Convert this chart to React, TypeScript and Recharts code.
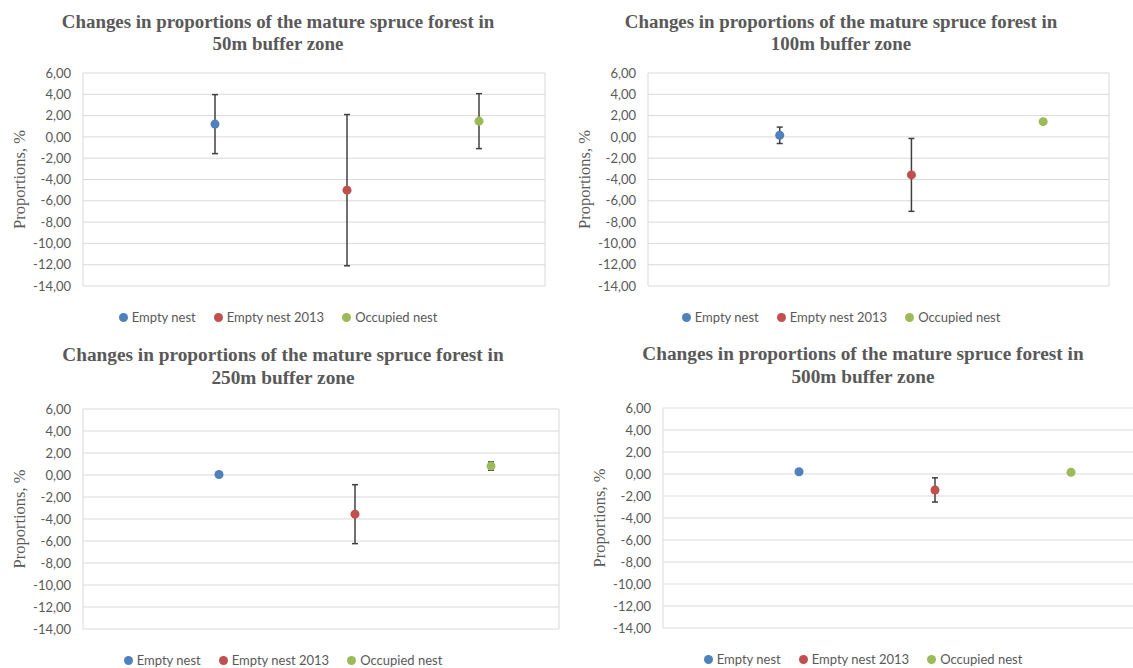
import { CartesianGrid, ErrorBar, Legend, Scatter, ScatterChart, XAxis, YAxis, ZAxis } from 'recharts';

// Shared series / axis definitions
const seriesNames = ['Empty nest', 'Empty nest 2013', 'Occupied nest'];
const seriesColors = ['#4F81BD', '#C0504D', '#9BBB59'];
const seriesX = [2, 4, 6];
const xTicks = [0, 1, 2, 3, 4, 5, 6, 7];
const yTicks = [6, 4, 2, 0, -2, -4, -6, -8, -10, -12, -14];

const titleLine = 'Changes in proportions of the mature spruce forest in';
const zones = ['50m', '100m', '250m', '500m'];

// Mean change and error (±) per series, one pair of arrays per buffer zone
const means50 = [1.2, -5.0, 1.48];
const errors50 = [2.77, 7.1, 2.58];

const means100 = [0.15, -3.57, 1.43];
const errors100 = [0.77, 3.42, 0];

const means250 = [0.05, -3.56, 0.81];
const errors250 = [0, 2.68, 0.38];

const means500 = [0.2, -1.45, 0.15];
const errors500 = [0, 1.1, 0];

const GRAY = '#595959';
const SANS = 'Lato, "Open Sans", sans-serif';
const SERIF = '"Liberation Serif", "Times New Roman", serif';

type Layout = {
  left: number;
  top: number;
  width: number;
  height: number;
  marginTop: number;
  marginBottom: number;
  center: number;
  titleTop: number;
  titleSize: number;
  titleLine: number;
};

const layouts: Layout[] = [
  { left: 0, top: 0, width: 555, height: 335, marginTop: 73, marginBottom: 8, center: 278, titleTop: 11, titleSize: 18.9, titleLine: 21.6 },
  { left: 565, top: 0, width: 554, height: 335, marginTop: 73, marginBottom: 8, center: 276, titleTop: 11, titleSize: 18.9, titleLine: 21.6 },
  { left: 0, top: 335, width: 569, height: 340, marginTop: 74, marginBottom: 5, center: 283, titleTop: 9, titleSize: 19.3, titleLine: 22.5 },
  { left: 580, top: 335, width: 569, height: 340, marginTop: 73, marginBottom: 6, center: 283, titleTop: 8, titleSize: 19.3, titleLine: 22.5 },
];

const fmt = (v: number) => v.toFixed(2).replace('.', ',');

function LegendContent({ payload }: any) {
  return (
    <div
      style={{
        display: 'flex',
        justifyContent: 'center',
        alignItems: 'center',
        height: 20,
        fontFamily: SANS,
        fontSize: 13,
        color: GRAY,
      }}
    >
      {(payload || []).map((entry: any, i: number) => (
        <span key={entry.value} style={{ display: 'flex', alignItems: 'center', marginRight: i < payload.length - 1 ? 18 : 0 }}>
          <span style={{ width: 9, height: 9, borderRadius: '50%', background: entry.color, marginRight: 4 }} />
          {entry.value}
        </span>
      ))}
    </div>
  );
}

function ZonePanel({ zone, means, errors, layout }: { zone: string; means: number[]; errors: number[]; layout: Layout }) {
  return (
    <div style={{ position: 'absolute', left: layout.left, top: layout.top, width: layout.width, height: layout.height }}>
      <div
        style={{
          position: 'absolute',
          left: layout.center - 300,
          width: 600,
          top: layout.titleTop,
          textAlign: 'center',
          fontFamily: SERIF,
          fontWeight: 'bold',
          fontSize: layout.titleSize,
          lineHeight: `${layout.titleLine}px`,
          color: GRAY,
        }}
      >
        {titleLine}
        <br />
        {zone} buffer zone
      </div>
      <ScatterChart
        width={layout.width}
        height={layout.height}
        margin={{ top: layout.marginTop, right: 10, bottom: layout.marginBottom, left: 0 }}
      >
        <CartesianGrid stroke="#d9d9d9" strokeWidth={1} />
        <XAxis
          type="number"
          dataKey="x"
          domain={[0, 7]}
          ticks={xTicks}
          tick={false}
          axisLine={false}
          tickLine={false}
          height={21}
        />
        <YAxis
          type="number"
          dataKey="y"
          domain={[-14, 6]}
          ticks={yTicks}
          interval={0}
          width={83}
          axisLine={false}
          tickLine={false}
          tickSize={0}
          tickMargin={12}
          tickFormatter={fmt}
          tick={{ fontFamily: SANS, fontSize: 13, fill: GRAY }}
          label={{
            value: 'Proportions, %',
            angle: -90,
            position: 'insideLeft',
            offset: 19,
            style: { textAnchor: 'middle', fontFamily: SERIF, fontSize: 16.5, fill: GRAY },
          }}
        />
        <ZAxis range={[64, 64]} />
        <Legend
          verticalAlign="bottom"
          content={<LegendContent />}
          wrapperStyle={{ left: 0, width: layout.center * 2 }}
        />
        {seriesNames.map((name, i) => (
          <Scatter
            key={name}
            name={name}
            data={[{ x: seriesX[i], y: means[i], err: errors[i] }]}
            fill={seriesColors[i]}
            shape="circle"
            isAnimationActive={false}
          >
            <ErrorBar dataKey="err" direction="y" width={3} stroke="#404040" strokeWidth={1.5} />
          </Scatter>
        ))}
      </ScatterChart>
    </div>
  );
}

export default function App() {
  const series = [
    { means: means50, errors: errors50 },
    { means: means100, errors: errors100 },
    { means: means250, errors: errors250 },
    { means: means500, errors: errors500 },
  ];
  return (
    <div style={{ position: 'absolute', left: 0, top: 0, width: 1133, height: 668, overflow: 'hidden', background: '#fff' }}>
      {zones.map((zone, i) => (
        <ZonePanel key={zone} zone={zone} means={series[i].means} errors={series[i].errors} layout={layouts[i]} />
      ))}
    </div>
  );
}
